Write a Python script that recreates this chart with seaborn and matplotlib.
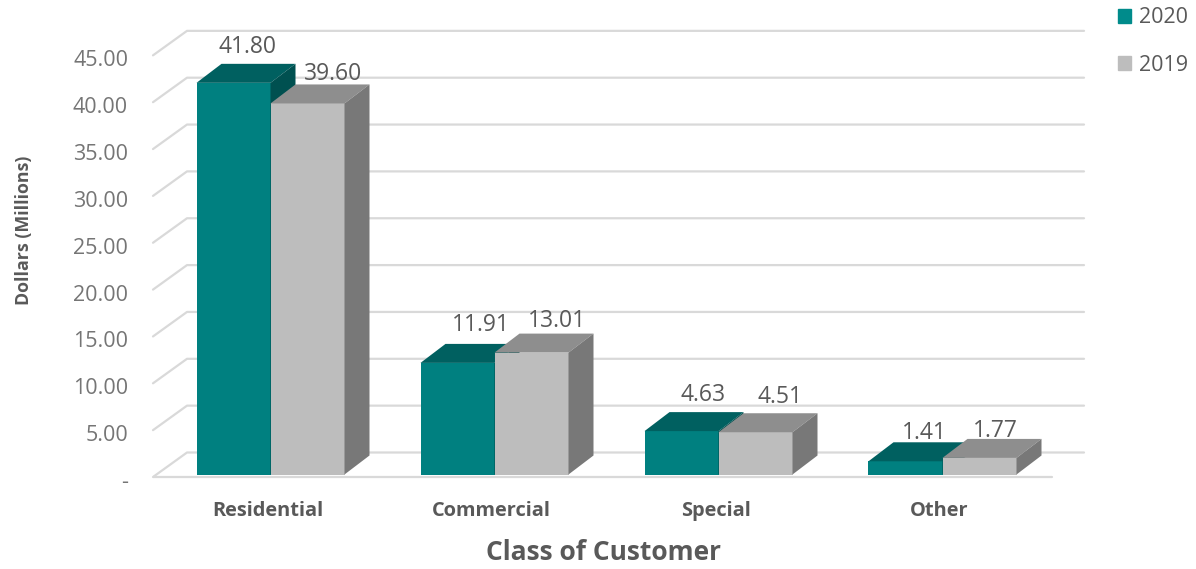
import pandas as pd
import matplotlib.pyplot as plt
import seaborn as sns
from matplotlib.patches import Polygon, Patch
from matplotlib.transforms import ScaledTranslation

# Values (dollars in millions)
categories = ['Residential', 'Commercial', 'Special', 'Other']
values_2020 = [41.80, 11.91, 4.63, 1.41]
values_2019 = [39.60, 13.01, 4.51, 1.77]
grid_values = [0, 5, 10, 15, 20, 25, 30, 35, 40, 45]

sns.set_style('white')
plt.rcParams['font.family'] = ['Open Sans', 'DejaVu Sans']

text_grey = '#595959'
grid_grey = '#D9D9D9'
faces = {'2020': ('#008080', '#006060', '#005050'),
         '2019': ('#BDBDBD', '#8E8E8E', '#787878')}

# Pixel layout of the picture, everything below is converted from these
W, H = 1196, 569
ax_left, ax_right, ax_top, ax_bottom = 153, 1085, 25, 480
base_y = 474.5     # where bars stand
px_per_unit = 9.37
cat_x = 270.5
cat_step = 224

fig = plt.figure(figsize=(W / 100, H / 100), dpi=100)
ax = fig.add_axes([ax_left / W, 1 - ax_bottom / H,
                   (ax_right - ax_left) / W, (ax_bottom - ax_top) / H])

df = pd.DataFrame({
    'category': categories * 2,
    'value': values_2020 + values_2019,
    'year': ['2020'] * 4 + ['2019'] * 4,
})

sns.barplot(data=df, x='category', y='value', hue='year', hue_order=['2020', '2019'],
            palette={k: v[0] for k, v in faces.items()},
            width=148 / cat_step, gap=0, saturation=1, legend=False, ax=ax, zorder=2,
            linewidth=0)

ax.set_xlim((ax_left - cat_x) / cat_step, (ax_right - cat_x) / cat_step)
ax.set_ylim((base_y - ax_bottom) / px_per_unit, (base_y - ax_top) / px_per_unit)

# Depth of the fake 3D bars, in data units
dx = 25 / cat_step
dy = 19 / px_per_unit

# Walls: front plane sits a little under the bars, back wall up and to the right
front_off = (base_y - 477) / px_per_unit
back_off = (base_y - 452.5) / px_per_unit
x_front = (ax_left - cat_x) / cat_step
x_back = (187 - cat_x) / cat_step
x_end = (ax_right - 1 - cat_x) / cat_step
for v in grid_values:
    ax.plot([x_front, x_back, x_end], [v + front_off, v + back_off, v + back_off],
            color=grid_grey, lw=1.6, zorder=0, solid_joinstyle='round', clip_on=False)
ax.plot([x_front, (1052 - cat_x) / cat_step], [front_off, front_off],
        color=grid_grey, lw=1.6, zorder=0)

# Top and side faces on each bar, 2019 painted over 2020
for z, year, container in zip([2, 3], ['2020', '2019'], ax.containers):
    front, top, side = faces[year]
    for bar in container:
        bar.set_zorder(z)
        x0, x1 = bar.get_x(), bar.get_x() + bar.get_width()
        h = bar.get_height()
        ax.add_patch(Polygon([(x0, h), (x0 + dx, h + dy), (x1 + dx, h + dy), (x1, h)],
                             facecolor=top, edgecolor='none', zorder=z))
        ax.add_patch(Polygon([(x1, 0), (x1 + dx, dy), (x1 + dx, h + dy), (x1, h)],
                             facecolor=side, edgecolor='none', zorder=z))

# Data labels, hand nudged in pixels from the back top corner of the bar centre
label_nudge = {'2020': [(14, 17), (23, 19), (22, 17), (19, 9)],
               '2019': [(26, 10), (25, 13), (25, 16), (16, 8)]}
for year, container in zip(['2020', '2019'], ax.containers):
    for bar, (nx, ny) in zip(container, label_nudge[year]):
        h = bar.get_height()
        ax.annotate(f'{h:.2f}', (bar.get_x() + bar.get_width() / 2, h + dy),
                    xytext=(nx * 0.72, ny * 0.72), textcoords='offset points',
                    ha='center', va='center', fontsize=16.5, color=text_grey, zorder=5)

# Axis text
sns.despine(ax=ax, left=True, bottom=True)
ax.patch.set_alpha(0)
ax.set_yticks([v + front_off - 3 / px_per_unit for v in grid_values],
              ['-' if v == 0 else f'{v:.2f}' for v in grid_values])
ax.tick_params(axis='y', length=0, pad=18, labelsize=15.5, labelcolor='#757575')
ax.tick_params(axis='x', length=0, pad=15, labelsize=14.4)
nudge_left = ScaledTranslation(-3 / 100, 0, fig.dpi_scale_trans)
for lab in ax.get_xticklabels():
    lab.set_fontweight('bold')
    lab.set_color(text_grey)
    lab.set_transform(lab.get_transform() + nudge_left)

ax.set_xlabel('Class of Customer', fontsize=19, fontweight='bold', color=text_grey)
ax.xaxis.set_label_coords((603 - ax_left) / (ax_right - ax_left),
                          (ax_bottom - 553) / (ax_bottom - ax_top))
ax.xaxis.label.set_va('center')
ax.set_ylabel('Dollars (Millions)', fontsize=12.8, fontweight='bold', color=text_grey)
ax.yaxis.set_label_coords((24 - ax_left) / (ax_right - ax_left),
                          (ax_bottom - 230) / (ax_bottom - ax_top))
ax.yaxis.label.set_va('center')

# Legend up in the top right corner
handles = [Patch(color='#008B8B', label='2020'), Patch(color='#BDBDBD', label='2019')]
fig.legend(handles=handles, loc='upper left', bbox_to_anchor=(1099 / W, 1 + 12 / H),
           frameon=False, fontsize=15.5, labelcolor=text_grey, handlelength=0.6,
           handleheight=0.6, handletextpad=0.35, labelspacing=1.22)

fig.savefig('out.png', dpi=100)
